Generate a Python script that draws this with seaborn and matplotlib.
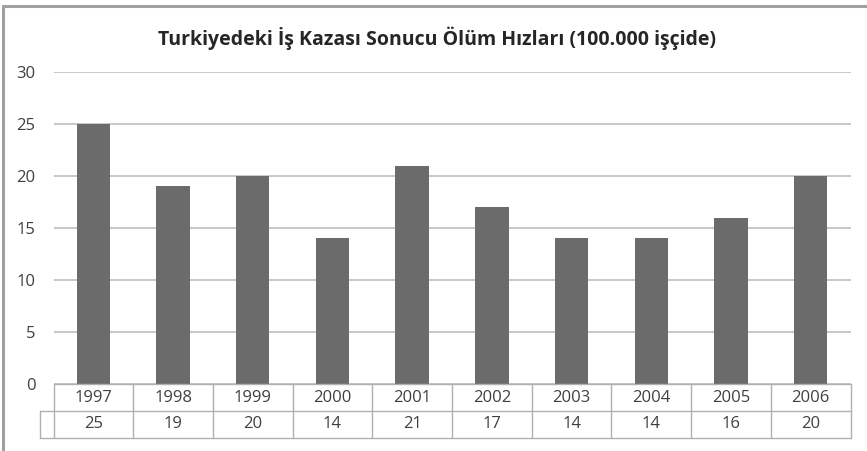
import matplotlib
matplotlib.use("Agg")
import matplotlib.pyplot as plt
import seaborn as sns
import pandas as pd
from matplotlib.lines import Line2D

years = ["1997", "1998", "1999", "2000", "2001", "2002", "2003", "2004", "2005", "2006"]
values = [25, 19, 20, 14, 21, 17, 14, 14, 16, 20]
yticks = [0, 5, 10, 15, 20, 25, 30]
title = "Turkiyedeki İş Kazası Sonucu Ölüm Hızları (100.000 işçide)"

sns.set_theme(style="white")
plt.rcParams['font.family'] = ['Open Sans', 'DejaVu Sans']

W, H = 867, 451
fig = plt.figure(figsize=(W / 100, H / 100), dpi=100)
fig.patch.set_facecolor("white")

def fx(px):
    return px / W

def fy(py):
    return 1 - py / H

L, R, T, B = 53.5, 850.5, 72, 384
ax = fig.add_axes([fx(L), fy(B), fx(R) - fx(L), fy(T) - fy(B)])

df = pd.DataFrame({"year": years, "value": values})
sns.barplot(data=df, x="year", y="value", color="#6b6b6b", saturation=1,
            width=0.42, ax=ax, edgecolor="none")

ax.set_ylim(0, 30)
ax.set_xlim(-0.5, len(years) - 0.5)
ax.set_yticks(yticks)
ax.set_yticklabels([str(t) for t in yticks], fontsize=12, color="#404040")
ax.tick_params(axis="y", length=0, pad=13)
ax.set_xticks([])
ax.set_xlabel("")
ax.set_ylabel("")
for s in ax.spines.values():
    s.set_visible(False)
ax.yaxis.grid(True, color="#b8b8b8", linewidth=1.1)
ax.set_axisbelow(True)

# data table below
lc = "#b0b0b0"
row1_top, row1_bot, row2_bot = 384, 411, 438
lines = []
lines.append(((L, row1_bot), (R, row1_bot)))
lines.append(((40, row1_bot), (L, row1_bot)))
lines.append(((40, row2_bot), (R, row2_bot)))
lines.append(((L, row1_top), (R, row1_top)))
lines.append(((40, row1_bot), (40, row2_bot)))
colw = (R - L) / len(years)
for i in range(len(years) + 1):
    x = L + i * colw
    lines.append(((x, row1_top), (x, row2_bot)))
for (x0, y0), (x1, y1) in lines:
    fig.add_artist(Line2D([fx(x0), fx(x1)], [fy(y0), fy(y1)], color=lc, linewidth=1))

for i, (yr, v) in enumerate(zip(years, values)):
    cx = L + (i + 0.5) * colw
    fig.text(fx(cx), fy((row1_top + row1_bot) / 2), yr, ha="center", va="center",
             fontsize=12, color="#404040")
    fig.text(fx(cx), fy((row1_bot + row2_bot) / 2), str(v), ha="center", va="center",
             fontsize=12, color="#404040")

# title
fig.text(fx(437), fy(38), title, ha="center", va="center", fontsize=14,
         fontweight="bold", color="#262626")

# outer border (top and left)
fig.add_artist(Line2D([fx(3.5), fx(867)], [fy(5.5), fy(5.5)], color="#a0a0a0", linewidth=2.2))
fig.add_artist(Line2D([fx(3.5), fx(3.5)], [fy(5.5), fy(451)], color="#a0a0a0", linewidth=2.2))

fig.savefig("out.png", dpi=100, facecolor="white")
